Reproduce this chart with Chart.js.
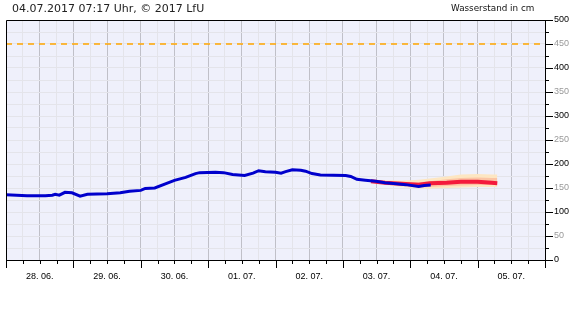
<!DOCTYPE html>
<html>
<head>
<meta charset="utf-8">
<script src="https://cdn.jsdelivr.net/npm/chart.js@4"></script>
<style>
  body { margin: 0; background: #fff; }
  #wrap { position: relative; width: 580px; height: 320px; }
  #stamp { position: absolute; left: 12px; top: 2px; font: 11px "DejaVu Sans", sans-serif; color: #222; }
  #unit { position: absolute; left: 451px; top: 3px; font: 8.8px "DejaVu Sans", sans-serif; color: #111; }
</style>
</head>
<body>
<div id="wrap">
  <canvas id="levelChart" width="580" height="320"></canvas>
  <div id="stamp">04.07.2017 07:17 Uhr, © 2017 LfU</div>
  <div id="unit">Wasserstand in cm</div>
</div>
<script>
// hours counted from 28.06. 00:00
const dayLabels = ["28. 06.", "29. 06.", "30. 06.", "01. 07.", "02. 07.", "03. 07.", "04. 07.", "05. 07."];

const obsHours = [0, 7.5, 14, 16.5, 17.5, 19, 21, 23.5, 26.4, 29, 36, 40.7, 44, 48, 49.6, 53, 57, 60, 64, 67.5, 69, 74.6, 77.5, 80.7, 85, 88, 90, 92.4, 96, 98, 99.6, 102, 105, 106.7, 109, 112, 121, 122.8, 125, 128, 131.7, 135, 139, 142.4, 147, 149, 151.3];
const obsLevel = [136, 134, 134, 135, 137, 135, 141, 140, 133, 137, 138, 140, 143, 145, 149, 150, 159, 166, 172, 180, 182, 183, 182, 178, 176, 181, 186, 184, 183, 181, 184, 188, 187, 185, 180, 177, 176, 174, 168, 166, 164, 161, 159, 157, 153, 155, 156];

const fcHours  = [130, 135, 141, 147, 151, 157, 162, 168, 173, 175];
const fcMedian = [164, 161, 159, 157, 160, 161, 163, 163, 161, 160];
const fcLow50  = [164, 159, 155, 151, 152, 154, 155, 156, 156, 156];
const fcHigh50 = [164, 163, 162, 162, 164, 168, 171, 172, 171, 171];
const fcLow90  = [164, 157, 152, 149, 149, 150, 151, 152, 152, 152];
const fcHigh90 = [164, 166, 165, 167, 170, 174, 178, 179, 178, 178];

const alarmLevel = 450;

function pts(xs, ys) {
  return xs.map((x, i) => ({ x: x, y: ys[i] }));
}

const framePlugin = {
  id: "frame",
  beforeDraw(chart) {
    const { ctx, chartArea: a } = chart;
    ctx.save();
    ctx.fillStyle = "#eff0fb";
    ctx.fillRect(a.left, a.top, a.right - a.left, a.bottom - a.top);
    ctx.restore();
  },
  afterDraw(chart) {
    const { ctx, chartArea: a } = chart;
    const xs = chart.scales.x;
    const ys = chart.scales.y;
    ctx.save();
    ctx.strokeStyle = "#000";
    ctx.lineWidth = 1;
    ctx.beginPath();
    ctx.moveTo(a.left + 0.5, a.bottom);
    ctx.lineTo(a.left + 0.5, a.top + 0.5);
    ctx.lineTo(a.right, a.top + 0.5);
    // x ticks below the axis
    for (let h = 0; h <= 192; h += 6) {
      const px = Math.round(xs.getPixelForValue(h)) + 0.5;
      ctx.moveTo(px, a.bottom);
      ctx.lineTo(px, a.bottom + (h % 24 === 0 ? 8 : 4));
    }
    // y ticks right of the axis
    for (let v = 0; v <= 500; v += 25) {
      const py = Math.round(ys.getPixelForValue(v)) + 0.5;
      ctx.moveTo(a.right, py);
      ctx.lineTo(a.right + (v % 50 === 0 ? 8 : 4), py);
    }
    ctx.stroke();
    ctx.restore();
  }
};

const chart = new Chart(document.getElementById("levelChart"), {
  type: "line",
  data: {
    datasets: [
      {
        label: "Messwerte",
        data: pts(obsHours, obsLevel),
        borderColor: "#0000cc",
        borderWidth: 3,
        pointRadius: 0,
        tension: 0
      },
      {
        label: "Vorhersage",
        data: pts(fcHours, fcMedian),
        borderColor: "#f41a3c",
        borderWidth: 4,
        pointRadius: 0,
        tension: 0
      },
      {
        label: "50%",
        data: pts(fcHours, fcHigh50),
        borderColor: "transparent",
        backgroundColor: "#fcc4a4",
        fill: "+1",
        pointRadius: 0
      },
      {
        label: "50% low",
        data: pts(fcHours, fcLow50),
        borderColor: "transparent",
        pointRadius: 0
      },
      {
        label: "90%",
        data: pts(fcHours, fcHigh90),
        borderColor: "transparent",
        backgroundColor: "#fde6c2",
        fill: "+1",
        pointRadius: 0
      },
      {
        label: "90% low",
        data: pts(fcHours, fcLow90),
        borderColor: "transparent",
        pointRadius: 0
      },
      {
        label: "Meldestufe",
        data: [{ x: 0, y: alarmLevel }, { x: 192, y: alarmLevel }],
        borderColor: "#ffa500",
        borderWidth: 1.5,
        borderDash: [6, 5],
        pointRadius: 0
      }
    ]
  },
  options: {
    responsive: false,
    animation: false,
    devicePixelRatio: 1,
    layout: { padding: { left: 6, top: 20, right: 0, bottom: 0 } },
    plugins: { legend: { display: false }, tooltip: { enabled: false } },
    scales: {
      x: {
        type: "linear",
        min: 0,
        max: 192,
        afterFit(scale) {
          scale.height = 60;
          scale.paddingLeft = 0;
          scale.paddingRight = 0;
        },
        afterBuildTicks(scale) {
          const t = [];
          for (let h = 0; h <= 192; h += 6) t.push({ value: h });
          scale.ticks = t;
        },
        grid: {
          drawTicks: false,
          color: (c) => (c.tick && c.tick.value % 12 === 0 ? "#c0c0c8" : "#e4e4ea")
        },
        border: { color: "#000" },
        ticks: {
          autoSkip: false,
          maxRotation: 0,
          padding: 11,
          color: "#000",
          font: { family: "Liberation Sans", size: 9 },
          callback: (v) => (v % 24 === 12 ? dayLabels[(v - 12) / 24] : "")
        }
      },
      y: {
        position: "right",
        min: 0,
        max: 500,
        afterFit(scale) {
          scale.width = 35;
          scale.paddingTop = 0;
          scale.paddingBottom = 0;
        },
        afterBuildTicks(scale) {
          const t = [];
          for (let v = 0; v <= 500; v += 25) t.push({ value: v });
          scale.ticks = t;
        },
        grid: { drawTicks: false, color: "#e4e4ea" },
        border: { color: "#000" },
        ticks: {
          autoSkip: false,
          padding: 9,
          font: { family: "Liberation Sans", size: 9 },
          color: (c) => (c.tick.value % 100 === 0 ? "#000" : "#999"),
          callback: (v) => (v % 50 === 0 ? String(v) : "")
        }
      }
    }
  },
  plugins: [framePlugin]
});
</script>
</body>
</html>
